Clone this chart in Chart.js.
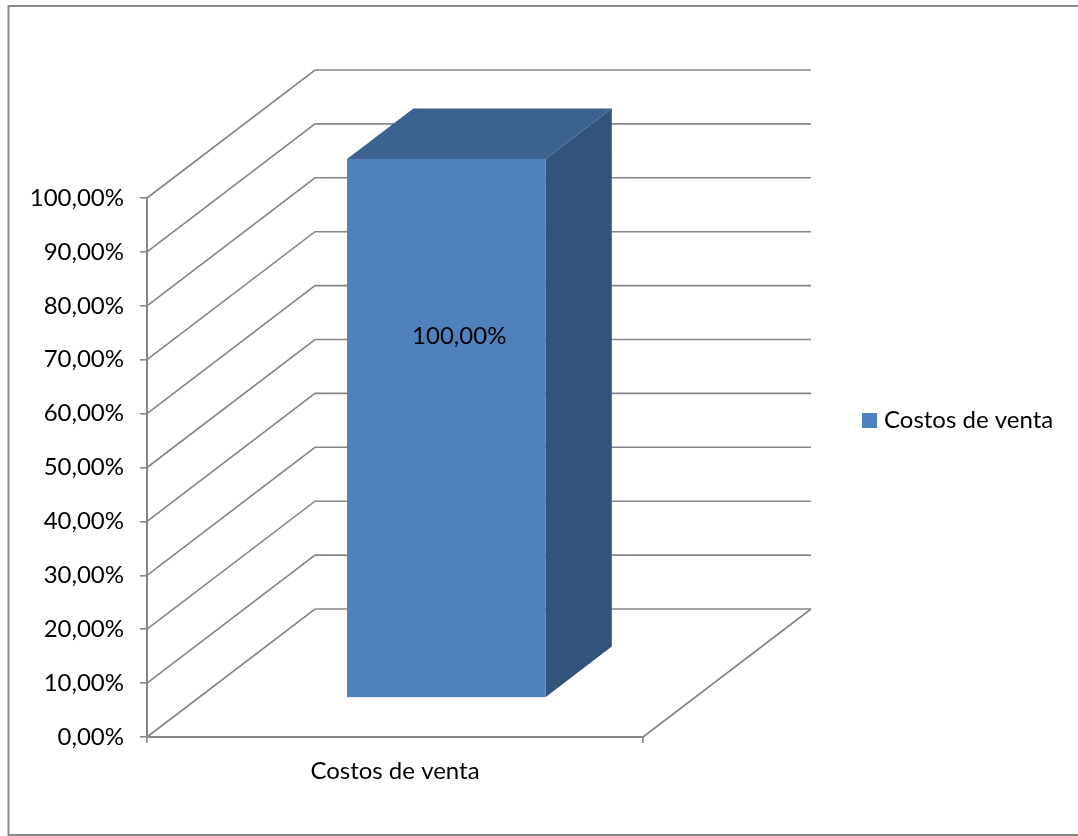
<!DOCTYPE html>
<html>
<head>
<meta charset="utf-8">
<script src="https://cdn.jsdelivr.net/npm/chart.js@4.4.1/dist/chart.umd.min.js"></script>
<style>
  html, body { margin: 0; padding: 0; background: #ffffff; }
  #wrap { width: 1078px; height: 836px; }
</style>
</head>
<body>
<div id="wrap"><canvas id="c" width="1078" height="836"></canvas></div>
<script>
// ---- data ----
const categories = ['Costos de venta'];
const seriesName = 'Costos de venta';
const seriesValues = [1.00];
const yTickValues = [0, 0.1, 0.2, 0.3, 0.4, 0.5, 0.6, 0.7, 0.8, 0.9, 1.0];
const dataLabels = ['100,00%'];

// ---- style ----
const FONT = 'Lato, "Open Sans", sans-serif';
const FONT_SIZE = 24;
const GRID = '#868686';
const FRONT = '#4F81BD';
const TOP = '#3C6390';
const SIDE = '#32537B';
const DEPTH_X = 168, DEPTH_Y = -128;   // 3D projection of the full depth
const BAR_D0 = 0.305, BAR_D1 = 0.70;    // bar depth range (fraction)

function fmtPct(v) {
  return (v * 100).toFixed(2).replace('.', ',') + '%';
}

const threeD = {
  id: 'threeD',
  beforeDraw(chart) {
    const ctx = chart.ctx;
    ctx.save();
    ctx.fillStyle = '#ffffff';
    ctx.fillRect(0, 0, chart.width, chart.height);
    // outer frame
    ctx.strokeStyle = '#8a8a8a';
    ctx.lineWidth = 2;
    ctx.beginPath();
    ctx.moveTo(1080, 6);
    ctx.lineTo(8.5, 6);
    ctx.lineTo(8.5, 835);
    ctx.lineTo(1080, 835);
    ctx.stroke();
    ctx.restore();
  },
  beforeDatasetsDraw(chart) {
    const ctx = chart.ctx;
    const ys = chart.scales.y;
    const a = chart.chartArea;
    ctx.save();
    ctx.strokeStyle = GRID;
    ctx.lineWidth = 1.6;
    ctx.beginPath();
    yTickValues.forEach(v => {
      const py = ys.getPixelForValue(v);
      ctx.moveTo(a.left, py);
      ctx.lineTo(a.left + DEPTH_X, py + DEPTH_Y);
      ctx.lineTo(a.right + DEPTH_X, py + DEPTH_Y);
    });
    // floor right edge
    ctx.moveTo(a.right, a.bottom);
    ctx.lineTo(a.right + DEPTH_X, a.bottom + DEPTH_Y);
    ctx.stroke();
    ctx.restore();
  },
  afterDatasetsDraw(chart) {
    const ctx = chart.ctx;
    const meta = chart.getDatasetMeta(0);
    ctx.save();
    meta.data.forEach((bar, i) => {
      const p = bar.getProps(['x', 'y', 'base', 'width'], true);
      const l = p.x - p.width / 2, r = p.x + p.width / 2;
      const ox0 = DEPTH_X * BAR_D0, oy0 = DEPTH_Y * BAR_D0;
      const ox1 = DEPTH_X * BAR_D1, oy1 = DEPTH_Y * BAR_D1;
      const fl = l + ox0, fr = r + ox0, ft = p.y + oy0, fb = p.base + oy0;
      const bl = l + ox1, br = r + ox1, bt = p.y + oy1, bb = p.base + oy1;
      // side face
      ctx.fillStyle = SIDE;
      ctx.beginPath();
      ctx.moveTo(fr, ft); ctx.lineTo(br, bt); ctx.lineTo(br, bb); ctx.lineTo(fr, fb);
      ctx.closePath(); ctx.fill();
      // top face
      ctx.fillStyle = TOP;
      ctx.beginPath();
      ctx.moveTo(fl, ft); ctx.lineTo(bl, bt); ctx.lineTo(br, bt); ctx.lineTo(fr, ft);
      ctx.closePath(); ctx.fill();
      // front face
      ctx.fillStyle = FRONT;
      ctx.fillRect(fl, ft, fr - fl, fb - ft);
      // data label
      ctx.fillStyle = '#000000';
      ctx.font = FONT_SIZE + 'px ' + FONT;
      ctx.textAlign = 'center';
      ctx.textBaseline = 'middle';
      ctx.fillText(dataLabels[i], (fl + fr) / 2 + 13, ft + (fb - ft) * 0.329);
    });
    ctx.restore();
  },
  afterDraw(chart) {
    const ctx = chart.ctx;
    const ds = chart.data.datasets[0];
    ctx.save();
    ctx.fillStyle = FRONT;
    ctx.fillRect(862, 413, 15, 15);
    ctx.fillStyle = '#000000';
    ctx.font = FONT_SIZE + 'px ' + FONT;
    ctx.textAlign = 'left';
    ctx.textBaseline = 'middle';
    ctx.fillText(ds.label, 884, 420);
    ctx.restore();
  }
};

new Chart(document.getElementById('c'), {
  type: 'bar',
  data: {
    labels: categories,
    datasets: [{
      label: seriesName,
      data: seriesValues,
      backgroundColor: 'rgba(0,0,0,0)',
      borderWidth: 0,
      categoryPercentage: 1.0,
      barPercentage: 0.4
    }]
  },
  options: {
    responsive: false,
    devicePixelRatio: 1,
    animation: false,
    layout: { padding: { left: 0, top: 198, right: 435, bottom: 0 } },
    plugins: {
      legend: { display: false },
      tooltip: { enabled: false }
    },
    scales: {
      x: {
        grid: { drawOnChartArea: false, color: GRID, tickLength: 6, lineWidth: 1.6, offset: true },
        border: { display: true, color: GRID, width: 2 },
        ticks: { color: '#000000', font: { family: FONT, size: FONT_SIZE }, padding: 14, maxRotation: 0 },
        afterFit(s) { s.height = 99; }
      },
      y: {
        min: 0, max: 1,
        afterBuildTicks(s) { s.ticks = yTickValues.map(v => ({ value: v })); },
        grid: { drawOnChartArea: false, color: GRID, tickLength: 7, lineWidth: 1.6 },
        border: { display: true, color: GRID, width: 2 },
        ticks: {
          color: '#000000',
          font: { family: FONT, size: FONT_SIZE },
          padding: 16,
          callback: (v) => fmtPct(v)
        },
        afterFit(s) { s.width = 147; }
      }
    }
  },
  plugins: [threeD]
});
</script>
</body>
</html>
